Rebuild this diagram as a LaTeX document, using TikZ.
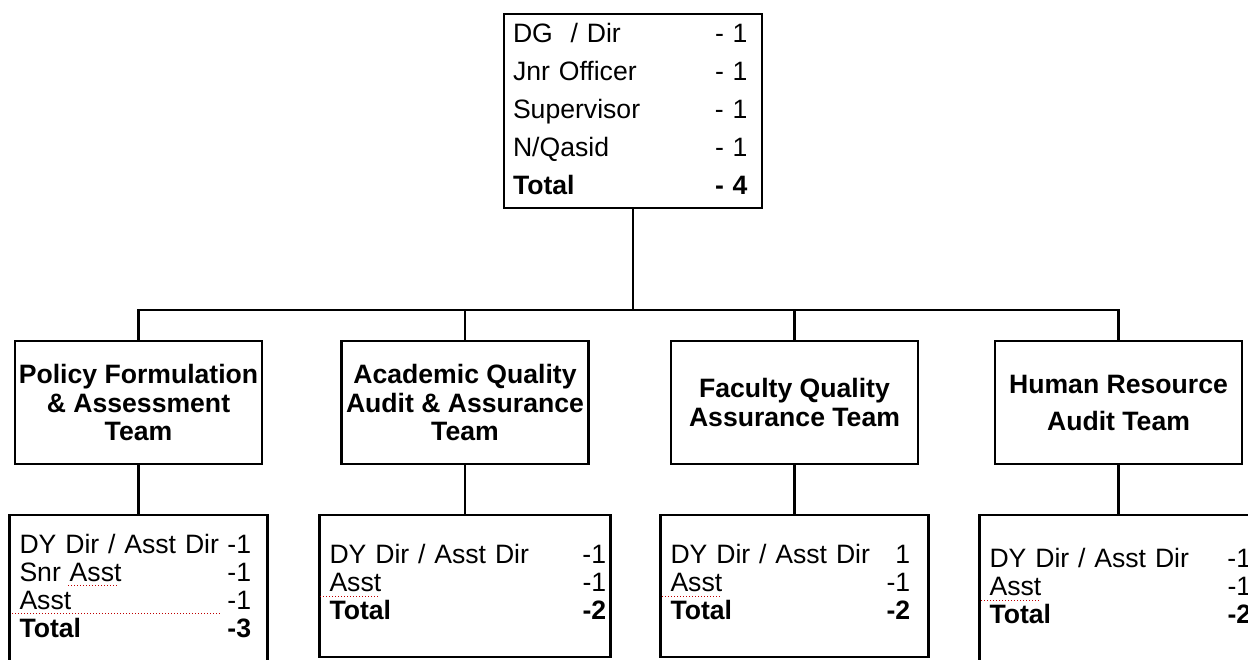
\documentclass[tikz,border=0pt]{standalone}
\usepackage{fontspec}
\setmainfont{Liberation Sans}
\usetikzlibrary{positioning}

\tikzset{
	unit/.style={
		draw,
		line width=1.2pt,
		outer sep=0pt,
		minimum width=123.5pt,
		minimum height=61.5pt,
		inner xsep=1pt,
		align=center,
		font=\fontsize{13.3}{14.2}\selectfont\bfseries
	},
	staff/.style={
		draw,
		line width=1.2pt,
		outer sep=0pt,
		inner xsep=5pt,
		inner ysep=0pt,
		align=left,
		font=\fontsize{13.3}{13.85}\selectfont
	},
	link/.style={line width=1.2pt},
	spell/.style={red!75!black, densely dotted, line width=0.5pt}
}

\begin{document}
\begin{tikzpicture}[x=0.5pt, y=-0.5pt]

\useasboundingbox (0,0) rectangle (1248,659);

% head of the unit
\node[
	staff,
	minimum width=129pt,
	minimum height=97pt,
	text width=120pt,
	inner xsep=4.5pt,
	font=\fontsize{13.3}{19}\selectfont
] (dg) at (633,111) {%
	\begin{tabular}{@{}p{101pt}@{}l@{}}
		DG\ \ / Dir & - 1\\
		Jnr Officer & - 1\\
		Supervisor & - 1\\
		N/Qasid & - 1\\
		\textbf{Total} & \textbf{- 4}
	\end{tabular}};

% teams
\node[unit] (pol) at (138.5,402.5) {Policy Formulation\\ \& Assessment\\ Team};
\node[unit, right=39.75pt of pol] (aca) {Academic Quality\\ Audit \& Assurance\\ Team};
\node[unit, right=41.25pt of aca] (fac) {Faculty Quality\\ Assurance Team};
\node[
	unit,
	right=38.5pt of fac,
	font=\fontsize{13.3}{18.5}\selectfont\bfseries
] (hum) {Human Resource\\ Audit Team};

% staff of each team
\node[
	staff,
	minimum width=129pt,
	minimum height=75pt,
	text width=119pt,
	below=25.5pt of pol
] (polstaff) {%
	\begin{tabular}{@{}p{104pt}@{}l@{}}
		DY Dir / Asst Dir & -1\\
		Snr Asst & -1\\
		Asst & -1\\
		\textbf{Total} & \textbf{-3}
	\end{tabular}};

\node[
	staff,
	minimum width=145.5pt,
	minimum height=71pt,
	text width=135.5pt,
	below=25.5pt of aca
] (acastaff) {%
	\begin{tabular}{@{}p{126.5pt}@{}l@{}}
		DY Dir / Asst Dir & -1\\
		Asst & -1\\
		\textbf{Total} & \textbf{-2}
	\end{tabular}};

\node[
	staff,
	minimum width=134pt,
	minimum height=71pt,
	text width=124pt,
	below=25.5pt of fac
] (facstaff) {%
	\begin{tabular}{@{}p{108pt}@{}l@{}}
		DY Dir / Asst Dir & \phantom{-}1\\
		Asst & -1\\
		\textbf{Total} & \textbf{-2}
	\end{tabular}};

\node[
	staff,
	minimum width=139pt,
	minimum height=75pt,
	text width=129pt,
	below=25.5pt of hum
] (humstaff) {%
	\begin{tabular}{@{}p{119pt}@{}l@{}}
		DY Dir / Asst Dir & -1\\
		Asst & -1\\
		\textbf{Total} & \textbf{-2}
	\end{tabular}};

% connectors
\coordinate (bus) at (633,310);
\draw[link] (dg.south) -- (bus);
\draw[link] (pol.north) |- (bus) -| (hum.north);
\foreach \t in {aca,fac}
	\draw[link] (\t.north) -- (\t.north |- bus);
\foreach \a/\b in {pol/polstaff,aca/acastaff,fac/facstaff,hum/humstaff}
	\draw[link] (\a.south) -- (\b.north);

% spelling marks
\draw[spell] (68,585) -- (119,585);
\draw[spell] (12,613) -- (222,613);
\draw[spell] (320,596) -- (378,596);
\draw[spell] (662,596) -- (720,596);
\draw[spell] (981,600) -- (1039,600);

\end{tikzpicture}
\end{document}
